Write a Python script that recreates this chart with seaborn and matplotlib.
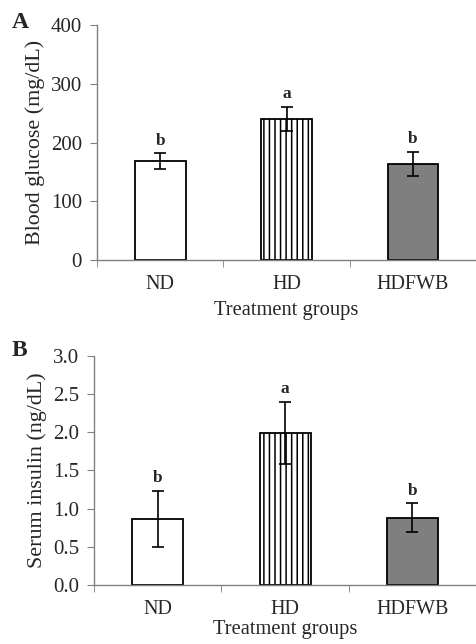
import numpy as np
import pandas as pd
import matplotlib
matplotlib.use("Agg")
import matplotlib.pyplot as plt
import seaborn as sns

groups = ["ND", "HD", "HDFWB"]
glucose = [169, 240, 164]
glucose_err = [13, 21, 20]
insulin = [0.86, 1.99, 0.88]
insulin_err = [0.37, 0.41, 0.19]
letters_a = ["b", "a", "b"]
letters_b = ["b", "a", "b"]

sns.set_style("ticks")
plt.rcParams['font.family'] = ['Liberation Serif', 'DejaVu Serif']
plt.rcParams['hatch.linewidth'] = 1.1

fig = plt.figure(figsize=(4.76, 6.44), dpi=100)
ax1 = fig.add_axes([0.204, 0.596, 0.796, 0.365])
ax2 = fig.add_axes([0.198, 0.092, 0.802, 0.355])

fills = ["white", "white", "#7f7f7f"]
hatches = [None, "|||", None]


def panel(ax, vals, errs, letters, ylabel, ylim, yticks, fmt, off, tag, tag_y, lpad):
    df = pd.DataFrame({"group": groups, "value": vals})
    sns.barplot(data=df, x="group", y="value", ax=ax, width=0.4,
                edgecolor="black", linewidth=1.3, errorbar=None)
    for patch, fc, h in zip(ax.patches, fills, hatches):
        patch.set_facecolor(fc)
        if h:
            patch.set_hatch(h)
    ax.errorbar(range(len(groups)), vals, yerr=errs, fmt="none",
                ecolor="black", elinewidth=1.2, capsize=4, capthick=1.2)
    for i, (v, e, t) in enumerate(zip(vals, errs, letters)):
        ax.text(i, v + e + off, t, ha="center", va="bottom",
                fontsize=12.5, fontweight="bold")
    ax.set_xlim(-0.5, 2.5)
    ax.set_ylim(*ylim)
    ax.set_yticks(yticks)
    ax.set_yticklabels([fmt.format(y) for y in yticks], fontsize=15)
    ax.set_xticks(range(3))
    ax.set_xticklabels(groups, fontsize=14.5)
    ax.tick_params(axis="x", which="major", length=0, pad=11)
    ax.set_xticks([-0.5, 0.5, 1.5], minor=True)
    ax.tick_params(axis="x", which="minor", length=5, color="#808080",
                   direction="out")
    ax.tick_params(axis="y", length=5, color="#808080", pad=6)
    for s in ["top", "right"]:
        ax.spines[s].set_visible(False)
    for s in ["left", "bottom"]:
        ax.spines[s].set_color("#808080")
        ax.spines[s].set_linewidth(1.0)
    ax.set_xlabel("Treatment groups", fontsize=14.8, labelpad=lpad)
    ax.set_ylabel(ylabel, fontsize=15.8, labelpad=4)
    fig.text(0.025, tag_y, tag, fontsize=17, fontweight="bold", va="center")


panel(ax1, glucose, glucose_err, letters_a, "Blood glucose (mg/dL)",
      (0, 400), [0, 100, 200, 300, 400], "{:.0f}", 8, "A", 1 - 23 / 644, 5)
panel(ax2, insulin, insulin_err, letters_b, "Serum insulin (ng/dL)",
      (0, 3.0), [0.0, 0.5, 1.0, 1.5, 2.0, 2.5, 3.0], "{:.1f}", 0.06, "B",
      1 - 350 / 644, 1)

fig.savefig("out.png", dpi=100)
